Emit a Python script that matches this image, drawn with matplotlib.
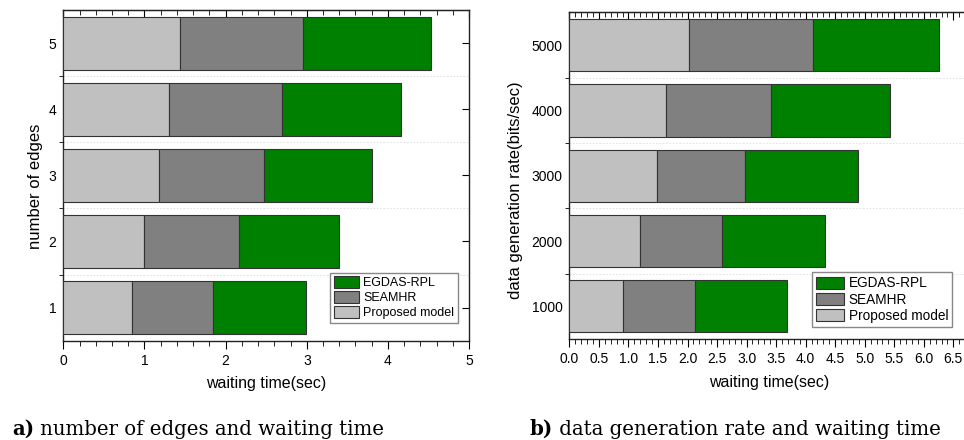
import numpy as np
import matplotlib
matplotlib.use('Agg')
import matplotlib.pyplot as plt
from matplotlib.ticker import MultipleLocator, FixedLocator, FormatStrFormatter

plt.rcParams['font.family'] = ['Liberation Sans', 'DejaVu Sans']

# left panel: number of edges vs waiting time (segment lengths, sec)
edges = ['1', '2', '3', '4', '5']
edges_proposed = [0.85, 1.00, 1.18, 1.30, 1.44]
edges_seamhr = [1.00, 1.17, 1.29, 1.40, 1.51]
edges_egdas = [1.14, 1.23, 1.33, 1.46, 1.58]

# right panel: data generation rate vs waiting time
rates = ['1000', '2000', '3000', '4000', '5000']
rate_proposed = [0.90, 1.20, 1.48, 1.64, 2.02]
rate_seamhr = [1.22, 1.39, 1.50, 1.78, 2.10]
rate_egdas = [1.57, 1.73, 1.90, 2.01, 2.13]

series_names = ['Proposed model', 'SEAMHR', 'EGDAS-RPL']
colors = ['#c0c0c0', '#808080', '#008000']

fig = plt.figure(figsize=(9.64, 4.4), dpi=100)
ax1 = fig.add_axes([0.0657, 0.2257, 0.4209, 0.7516])
ax2 = fig.add_axes([0.5906, 0.2295, 0.4137, 0.7421])


def draw_panel(ax, cats, vals, xmax, major, minor, ylabel, legend_pos, legend_fs,
               hlen, label_xy):
    y = np.arange(1, len(cats) + 1)
    left = np.zeros(len(cats))
    for v, c, name in zip(vals, colors, series_names):
        ax.barh(y, v, left=left, height=0.8, color=c, edgecolor='#333333',
                linewidth=0.8, label=name, zorder=3)
        left = left + np.array(v)
    ax.set_xlim(0, xmax)
    ax.set_ylim(0.5, len(cats) + 0.5)
    ax.set_yticks(y)
    ax.set_yticklabels(cats)
    ax.yaxis.set_minor_locator(FixedLocator(np.arange(1.5, len(cats), 1.0)))
    ax.xaxis.set_major_locator(MultipleLocator(major))
    ax.xaxis.set_minor_locator(MultipleLocator(minor))
    ax.tick_params(axis='y', which='major', left=False, right=True,
                   direction='in', length=5, labelsize=10, pad=5)
    ax.tick_params(axis='y', which='minor', left=True, right=False,
                   direction='out', length=3)
    ax.tick_params(axis='x', which='major', direction='out', length=6,
                   labelsize=10, top=False)
    ax.tick_params(axis='x', which='minor', direction='out', length=3.5,
                   top=False)
    top = ax.secondary_xaxis('top')
    top.xaxis.set_major_locator(MultipleLocator(major))
    top.xaxis.set_minor_locator(MultipleLocator(minor))
    top.tick_params(which='major', direction='in', length=6, labeltop=False)
    top.tick_params(which='minor', direction='in', length=3.5)
    ax.grid(axis='y', which='minor', linestyle=(0, (2, 2)), color='#dddddd',
            linewidth=0.6, zorder=0)
    for s in ax.spines.values():
        s.set_linewidth(1.0)
        s.set_color('#222222')
    ax.set_xlabel('waiting time(sec)', fontsize=11.5, labelpad=6)
    ax.set_ylabel(ylabel, fontsize=12)
    ax.yaxis.set_label_coords(*label_xy)
    h, l = ax.get_legend_handles_labels()
    ax.legend(h[::-1], l[::-1], loc='lower left', bbox_to_anchor=legend_pos,
              fontsize=legend_fs, frameon=True, fancybox=False,
              edgecolor='#888888', framealpha=1, borderpad=0.3,
              labelspacing=0.16, handlelength=hlen, handleheight=1.04,
              handletextpad=0.3, borderaxespad=0)


draw_panel(ax1, edges, [edges_proposed, edges_seamhr, edges_egdas], 5, 1, 0.2,
           'number of edges', (0.657, 0.053), 9, 2.05, (-0.050, 0.466))
draw_panel(ax2, rates, [rate_proposed, rate_seamhr, rate_egdas], 6.75, 0.5, 0.1,
           'data generation rate(bits/sec)', (0.608, 0.037), 9.8, 2.1,
           (-0.116, 0.456))
ax2.xaxis.set_major_formatter(FormatStrFormatter('%.1f'))
ax2.spines['right'].set_visible(False)
ax2.tick_params(axis='y', which='major', right=False)

# captions
fig.canvas.draw()
r = fig.canvas.get_renderer()
captions = [(12, 'a)', ' number of edges and waiting time'),
            (530, 'b)', ' data generation rate and waiting time')]
for x0, tag, rest in captions:
    t = fig.text(x0 / 964, 5 / 440, tag, fontsize=14.2, fontweight='bold',
                 family='DejaVu Serif', va='baseline')
    bb = t.get_window_extent(r)
    fig.text(bb.x1 / 964, 5 / 440, rest, fontsize=14.2,
             family='DejaVu Serif', va='baseline')

fig.savefig('out.png', dpi=100)
